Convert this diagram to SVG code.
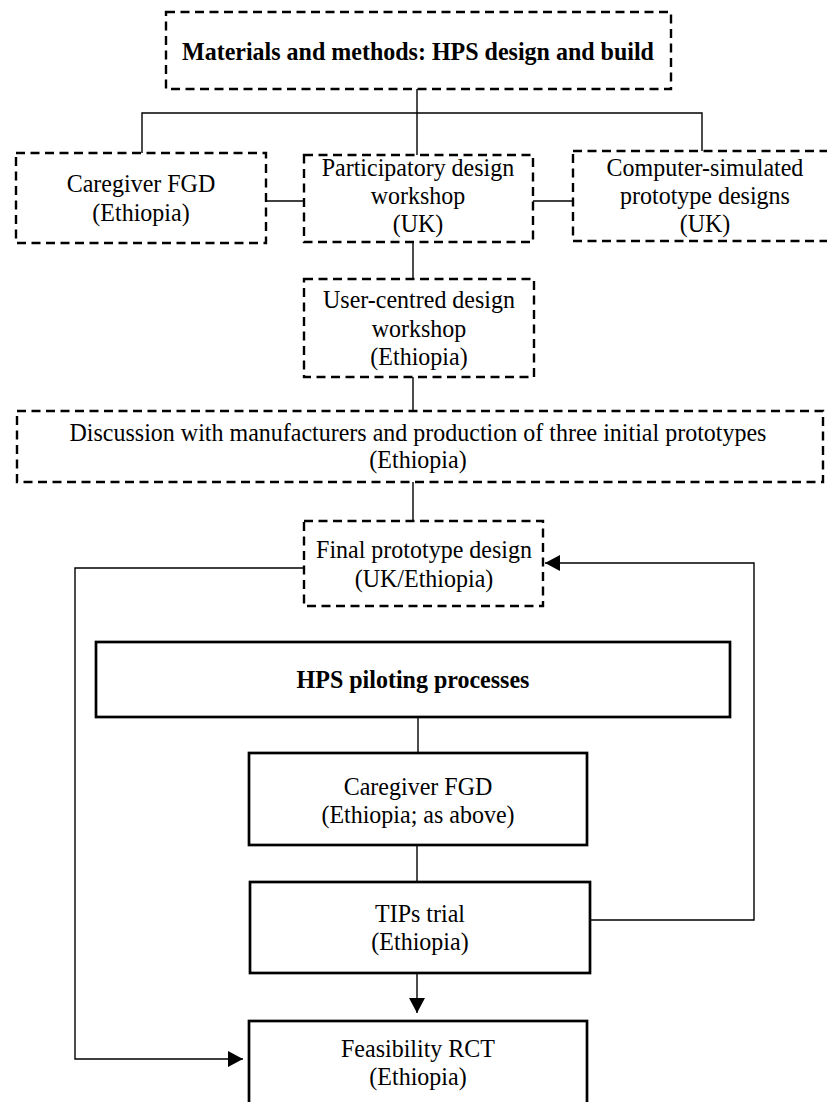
<svg xmlns="http://www.w3.org/2000/svg" width="827" height="1102" viewBox="0 0 827 1102">
  <style>
    .bg { fill: #ffffff; }
    .dash { fill: #ffffff; stroke: #000000; stroke-width: 2.4; stroke-dasharray: 9 5.5; }
    .solid { fill: #ffffff; stroke: #000000; stroke-width: 2.7; }
    .conn { fill: none; stroke: #000000; stroke-width: 1.4; }
    text { font-family: "Liberation Serif", "Times New Roman", serif; font-size: 24px; fill: #000000; text-anchor: middle; }
    .bold { font-weight: bold; }
  </style>
  <defs>
    <marker id="arrow" markerUnits="userSpaceOnUse" markerWidth="16" markerHeight="16" refX="15" refY="8" orient="auto">
      <path d="M0,0 L15,8 L0,16 Z" fill="#000000"/>
    </marker>
  </defs>

  <rect class="bg" x="0" y="0" width="827" height="1102"/>

  <!-- connectors -->
  <g id="connectors">
    <line class="conn" x1="417" y1="89" x2="417" y2="155"/>
    <polyline class="conn" points="142,153 142,113 702,113 702,151"/>
    <line class="conn" x1="266" y1="201" x2="304" y2="201"/>
    <line class="conn" x1="533" y1="201" x2="573" y2="201"/>
    <line class="conn" x1="413" y1="242" x2="413" y2="279"/>
    <line class="conn" x1="413" y1="377" x2="413" y2="411"/>
    <line class="conn" x1="413" y1="482" x2="413" y2="521"/>
    <line class="conn" x1="418" y1="717" x2="418" y2="753"/>
    <line class="conn" x1="417" y1="845" x2="417" y2="882"/>
    <line class="conn" x1="417" y1="973" x2="417" y2="1013" marker-end="url(#arrow)"/>
    <polyline class="conn" points="590,920 754,920 754,563 545,563" marker-end="url(#arrow)"/>
    <polyline class="conn" points="304,568 75,568 75,1059 243,1059" marker-end="url(#arrow)"/>
  </g>

  <!-- design and build phase; labels are stretched slightly in height about their baselines -->
  <g id="node-methods">
    <rect class="dash" x="166" y="12" width="505" height="77"/>
    <text class="bold" x="418" y="60" transform="matrix(1,0,0,1.08,0,-4.8)">Materials and methods: HPS design and build</text>
  </g>

  <g id="node-caregiver-fgd">
    <rect class="dash" x="16" y="153" width="250" height="90"/>
    <text x="141" y="192" transform="matrix(1,0,0,1.08,0,-15.36)">Caregiver FGD</text>
    <text x="141" y="221" transform="matrix(1,0,0,1.08,0,-17.68)">(Ethiopia)</text>
  </g>

  <g id="node-participatory">
    <rect class="dash" x="304" y="155" width="229" height="87"/>
    <text x="418" y="176" transform="matrix(1,0,0,1.08,0,-14.08)">Participatory design</text>
    <text x="418" y="204" transform="matrix(1,0,0,1.08,0,-16.32)">workshop</text>
    <text x="418" y="232" transform="matrix(1,0,0,1.08,0,-18.56)">(UK)</text>
  </g>

  <g id="node-computer-simulated">
    <rect class="dash" x="573" y="151" width="264" height="90"/>
    <text x="705" y="176" transform="matrix(1,0,0,1.08,0,-14.08)">Computer-simulated</text>
    <text x="705" y="204" transform="matrix(1,0,0,1.08,0,-16.32)">prototype designs</text>
    <text x="705" y="232" transform="matrix(1,0,0,1.08,0,-18.56)">(UK)</text>
  </g>

  <g id="node-user-centred">
    <rect class="dash" x="304" y="279" width="230" height="98"/>
    <text x="419" y="308" transform="matrix(1,0,0,1.08,0,-24.64)">User-centred design</text>
    <text x="419" y="337" transform="matrix(1,0,0,1.08,0,-26.96)">workshop</text>
    <text x="419" y="365" transform="matrix(1,0,0,1.08,0,-29.2)">(Ethiopia)</text>
  </g>

  <g id="node-discussion">
    <rect class="dash" x="17" y="411" width="806" height="71"/>
    <text x="418" y="441" transform="matrix(1,0,0,1.08,0,-35.28)">Discussion with manufacturers and production of three initial prototypes</text>
    <text x="418" y="468" transform="matrix(1,0,0,1.08,0,-37.44)">(Ethiopia)</text>
  </g>

  <g id="node-final-prototype">
    <rect class="dash" x="304" y="521" width="239" height="85"/>
    <text x="424" y="558" transform="matrix(1,0,0,1.08,0,-44.64)">Final prototype design</text>
    <text x="424" y="587" transform="matrix(1,0,0,1.08,0,-46.96)">(UK/Ethiopia)</text>
  </g>

  <!-- piloting phase -->
  <g id="node-piloting">
    <rect class="solid" x="96" y="642" width="634" height="75"/>
    <text class="bold" x="413" y="688" transform="matrix(1,0,0,1.08,0,-55.04)">HPS piloting processes</text>
  </g>

  <g id="node-caregiver-fgd-pilot">
    <rect class="solid" x="249" y="753" width="338" height="92"/>
    <text x="418" y="795" transform="matrix(1,0,0,1.08,0,-63.6)">Caregiver FGD</text>
    <text x="418" y="823" transform="matrix(1,0,0,1.08,0,-65.84)">(Ethiopia; as above)</text>
  </g>

  <g id="node-tips-trial">
    <rect class="solid" x="250" y="882" width="340" height="91"/>
    <text x="420" y="922" transform="matrix(1,0,0,1.08,0,-73.76)">TIPs trial</text>
    <text x="420" y="950" transform="matrix(1,0,0,1.08,0,-76)">(Ethiopia)</text>
  </g>

  <g id="node-feasibility-rct">
    <rect class="solid" x="249" y="1021" width="338" height="100"/>
    <text x="418" y="1057" transform="matrix(1,0,0,1.08,0,-84.56)">Feasibility RCT</text>
    <text x="418" y="1085" transform="matrix(1,0,0,1.08,0,-86.8)">(Ethiopia)</text>
  </g>
</svg>
